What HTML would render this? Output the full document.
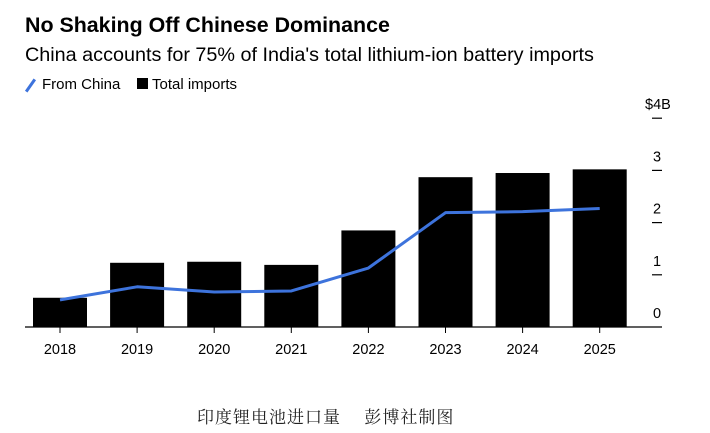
<!DOCTYPE html>
<html><head><meta charset="utf-8"><style>
body{margin:0;width:710px;height:433px;background:#fff;font-family:"Liberation Sans",sans-serif;overflow:hidden;position:relative}
.t{position:absolute;white-space:nowrap}
</style></head><body>
<div class="t" style="left:25px;top:13px;font-size:21.4px;font-weight:bold;color:#000">No Shaking Off Chinese Dominance</div>
<div class="t" style="left:25px;top:44px;font-size:19.8px;color:#000">China accounts for 75% of India's total lithium-ion battery imports</div>
<div class="t" style="left:25px;top:76px;font-size:15px;color:#000"><span style="display:inline-block;width:15px;height:3px;background:#3d73dc;transform:rotate(-55deg);vertical-align:middle;margin-right:4px;margin-left:-2px"></span>From China</div>
<div class="t" style="left:137px;top:76px;font-size:15px;color:#000"><span style="display:inline-block;width:11px;height:11px;background:#000;margin-right:4px"></span>Total imports</div>
<svg id="c" width="710" height="433" style="position:absolute;left:0;top:0"></svg>
<div class="t" style="left:197px;top:403px;font-size:17px;letter-spacing:1px;color:#222;font-family:'Noto Serif CJK SC','Noto Sans CJK SC',serif">印度锂电池进口量　 彭博社制图</div>
<script>
const years=["2018","2019","2020","2021","2022","2023","2024","2025"];
const totalImports=[0.56,1.23,1.25,1.19,1.85,2.87,2.95,3.02];
const fromChina=[0.52,0.77,0.67,0.69,1.13,2.19,2.21,2.27];
const yTicks=[0,1,2,3,4];
const yTickLabels=["0","1","2","3","$4B"];
const NS="http://www.w3.org/2000/svg";
const svg=document.getElementById('c');
const y=v=>327-v*52.2;
const x=i=>60+i*77.1;
function mk(t,a){const e=document.createElementNS(NS,t);for(const k in a)e.setAttribute(k,a[k]);svg.appendChild(e);return e;}
years.forEach((yr,i)=>{
 const b=mk('rect',{x:x(i)-27,y:y(totalImports[i]),width:54,height:327-y(totalImports[i]),fill:'#000'});
 
 
 const tk=mk('line',{x1:x(i),x2:x(i),y1:327,y2:333,stroke:'#000','stroke-width':1});
 
 
 const tl=mk('text',{x:x(i),y:354,'text-anchor':'middle','font-size':14.5,fill:'#000'});
 tl.textContent=yr;
 
 
});
const base=mk('line',{x1:25,x2:662,y1:327,y2:327,stroke:'#000','stroke-width':1.2});


yTicks.forEach((v,i)=>{
 if(v>0){const t=mk('line',{x1:652,x2:662,y1:y(v),y2:y(v),stroke:'#000','stroke-width':1.2});
 
 }
 const l=mk('text',{x:i==4?645:657,y:y(v)-9,'text-anchor':i==4?'start':'middle','font-size':14.5,fill:'#000'});
 l.textContent=yTickLabels[i];
 
 
});
const ln=mk('polyline',{points:fromChina.map((v,i)=>x(i)+','+y(v)).join(' '),fill:'none',stroke:'#3d73dc','stroke-width':3,'stroke-linejoin':'round'});


</script>
</body></html>
